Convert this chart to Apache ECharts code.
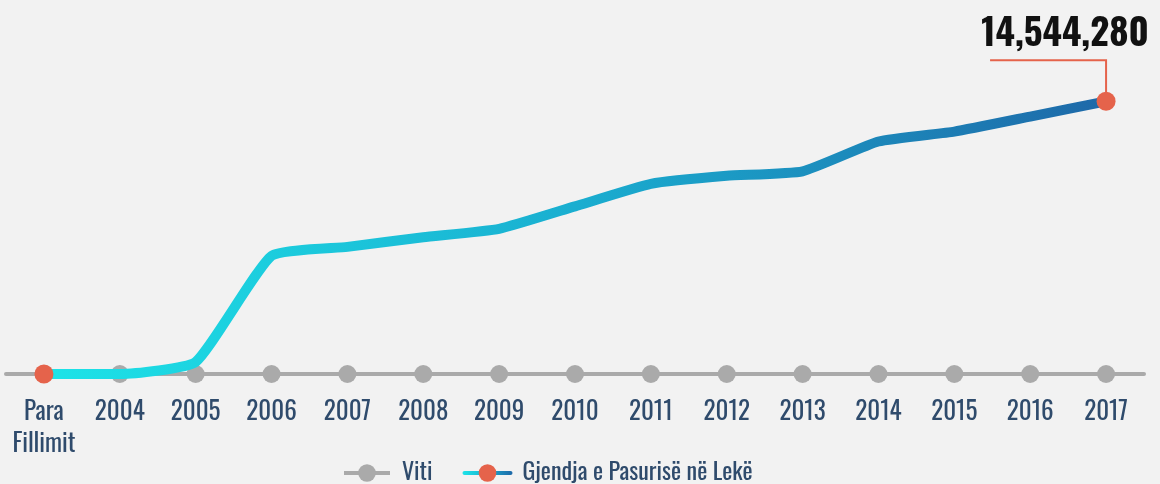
<!DOCTYPE html>
<html>
<head>
<meta charset="utf-8">
<script src="https://cdn.jsdelivr.net/npm/echarts@6/dist/echarts.min.js"></script>
<style>
html, body { margin: 0; padding: 0; background: #f2f2f2; }
#chart { width: 1160px; height: 484px; }
</style>
</head>
<body>
<div id="chart"></div>
<script>
var myChart = echarts.init(document.getElementById('chart'));

// te dhenat
var years = ['Para\nFillimit', '2004', '2005', '2006', '2007', '2008', '2009', '2010',
    '2011', '2012', '2013', '2014', '2015', '2016', '2017'];
var pasuria = [0, 0, 640000, 6300000, 6780000, 7290000, 7740000, 8940000,
    10140000, 10570000, 10810000, 12400000, 12930000, 13730000, 14544280];
var viti = [0, 0, 0, 0, 0, 0, 0, 0, 0, 0, 0, 0, 0, 0, 0];

var font = "'Oswald', 'Liberation Sans Narrow', 'DejaVu Sans Condensed', sans-serif";
var textColor = '#2f4b6c';
var red = '#e5634b';
var last = pasuria.length - 1;

var mainData = [];
for (var i = 0; i < pasuria.length; ++i) {
    var item = { value: pasuria[i] };
    if (i != 0 && i != last) {
        item.symbol = 'none';
    }
    mainData.push(item);
}
mainData[last].label = {
    show: true,
    position: 'top',
    distance: 0,
    offset: [-41, -38],
    fontFamily: font,
    fontSize: 37,
    fontWeight: 'bold',
    lineHeight: 38,
    color: '#111',
    formatter: function (p) {
        return p.value.toLocaleString('en-US');
    }
};

myChart.setOption({
    backgroundColor: '#f2f2f2',
    animation: false,
    grid: {
        left: 6,
        right: 16,
        top: 74,
        bottom: 110
    },
    legend: {
        top: 456,
        left: 337,
        itemWidth: 46,
        itemHeight: 22,
        itemGap: 30,
        lineStyle: { width: 4 },
        textStyle: {
            fontFamily: font,
            fontSize: 24,
            color: textColor,
            padding: [0, 0, 0, 7]
        },
        data: ['Viti', 'Gjendja e Pasurisë në Lekë']
    },
    xAxis: {
        type: 'category',
        boundaryGap: true,
        data: years,
        axisLine: {
            lineStyle: { color: '#aaaaaa', width: 4 }
        },
        axisTick: { show: false },
        axisLabel: {
            margin: 22,
            fontFamily: font,
            fontSize: 25,
            lineHeight: 32,
            color: textColor,
            interval: 0
        }
    },
    yAxis: {
        type: 'value',
        min: 0,
        max: 16000000,
        show: false,
        splitLine: { show: false }
    },
    series: [
        {
            name: 'Viti',
            type: 'line',
            data: viti,
            symbol: 'circle',
            symbolSize: 18,
            z: 2,
            itemStyle: { color: '#aaaaaa' },
            lineStyle: { color: '#aaaaaa', width: 4 }
        },
        {
            name: 'Gjendja e Pasurisë në Lekë',
            type: 'line',
            data: mainData,
            smooth: 0.15,
            symbol: 'circle',
            symbolSize: 19,
            z: 3,
            itemStyle: { color: red },
            lineStyle: {
                width: 10,
                cap: 'round',
                join: 'round',
                color: new echarts.graphic.LinearGradient(0, 0, 1, 0, [
                    { offset: 0, color: '#1de4e8' },
                    { offset: 0.5, color: '#1aaed0' },
                    { offset: 1, color: '#1e68a8' }
                ])
            }
        }
    ]
});

// vija e etiketes se vitit te fundit
var p = myChart.convertToPixel({ seriesIndex: 1 }, [last, pasuria[last]]);
myChart.setOption({
    graphic: [{
        type: 'polyline',
        z: 1,
        shape: {
            points: [[p[0] - 116, p[1] - 41], [p[0], p[1] - 41], [p[0], p[1]]]
        },
        style: { stroke: red, lineWidth: 2, fill: null }
    }]
});
</script>
</body>
</html>
